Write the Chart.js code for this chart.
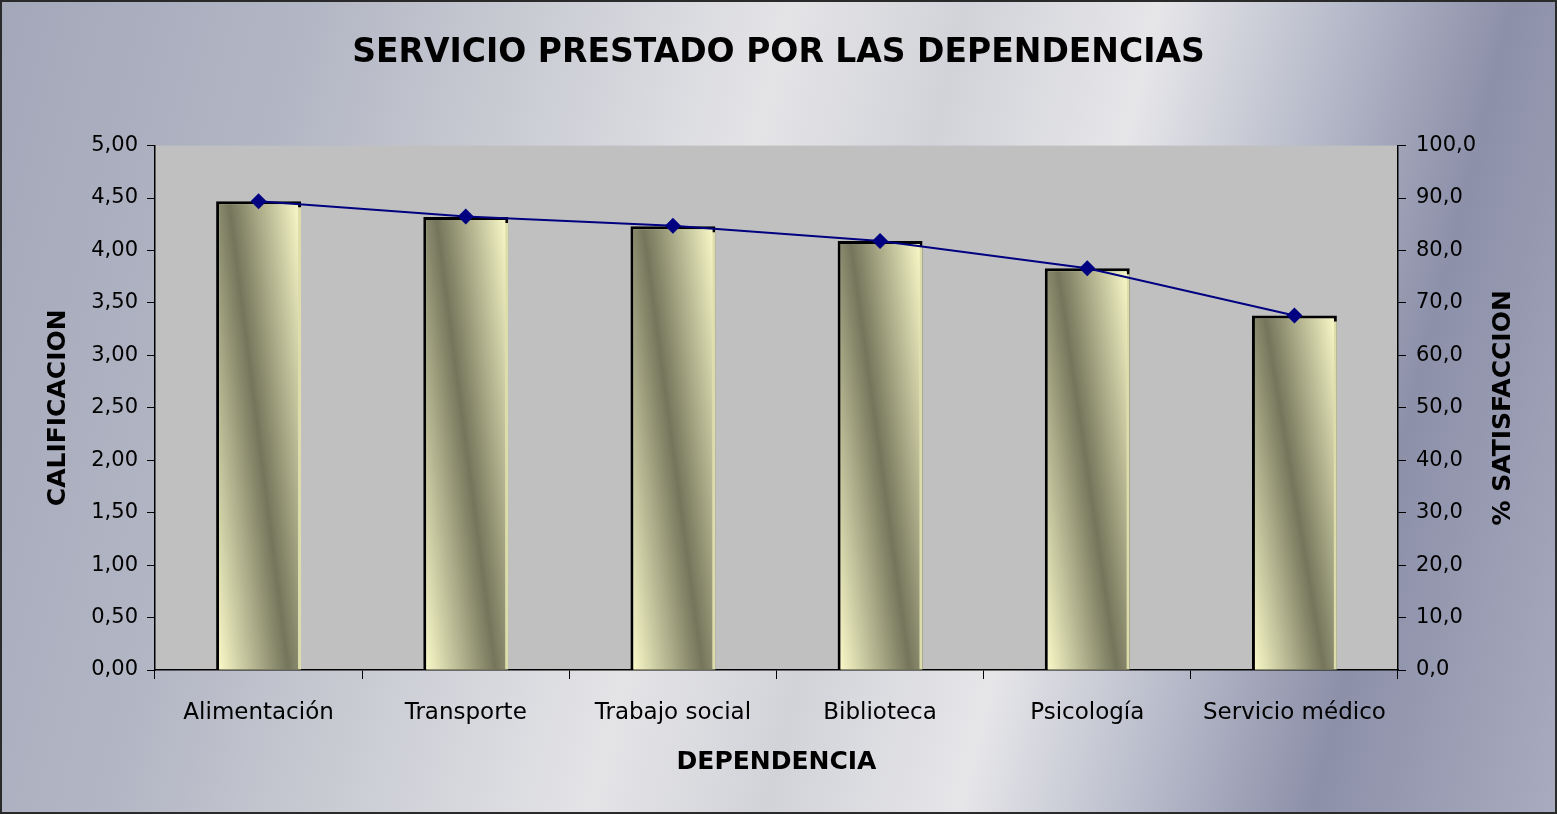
<!DOCTYPE html>
<html>
<head>
<meta charset="utf-8">
<script src="https://cdn.jsdelivr.net/npm/chart.js@4.4.0/dist/chart.umd.min.js"></script>
<style>
  html, body { margin: 0; padding: 0; }
  #wrap {
    position: relative; width: 1557px; height: 814px; overflow: hidden;
    background: linear-gradient(104deg, #a3a7b9 0%, #b3b6c4 18%, #c9cbd3 30%, #e4e4e7 45%, #d2d3d9 55%, #e6e6e9 66%, #b9bccb 76%, #8c90a9 86%, #a9acbf 100%);
  }
  #frame { position: absolute; left: 0; top: 0; right: 0; bottom: 0; border: 2px solid #2a2a2a; pointer-events: none; }
</style>
</head>
<body>
<div id="wrap">
  <canvas id="myChart" width="1557" height="814"></canvas>
  <div id="frame"></div>
</div>
<script>
// datos
var dependencias = ["Alimentación", "Transporte", "Trabajo social", "Biblioteca", "Psicología", "Servicio médico"];
var calificacion = [4.47, 4.32, 4.23, 4.09, 3.83, 3.38];
var satisfaccion = [89.4, 86.5, 84.7, 81.8, 76.6, 67.6];

var tickFont = { family: "DejaVu Sans", size: 21 };
var catFont = { family: "DejaVu Sans", size: 23 };
var titleFont = { family: "DejaVu Sans", size: 25, weight: "bold" };

var plotBg = {
  id: "plotBg",
  // fondo gris del area de trazado
  beforeDraw: function (chart) {
    var a = chart.chartArea;
    var ctx = chart.ctx;
    ctx.save();
    ctx.fillStyle = "#c0c0c0";
    ctx.fillRect(a.left, a.top, a.right - a.left, a.bottom - a.top);
    ctx.restore();
  },
  // sombra amarilla de las barras
  beforeDatasetDraw: function (chart, args) {
    if (args.index !== 1) return;
    var ctx = chart.ctx;
    ctx.save();
    ctx.shadowColor = "rgba(245,245,190,0.9)";
    ctx.shadowOffsetX = 3;
    ctx.shadowOffsetY = 3;
    ctx.shadowBlur = 0;
  },
  afterDatasetDraw: function (chart, args) {
    if (args.index !== 1) return;
    chart.ctx.restore();
  },
  // titulo derecho leido de abajo hacia arriba
  afterDraw: function (chart) {
    var ctx = chart.ctx;
    var a = chart.chartArea;
    ctx.save();
    ctx.translate(1503, (a.top + a.bottom) / 2);
    ctx.rotate(-Math.PI / 2);
    ctx.font = "bold 25px 'DejaVu Sans'";
    ctx.fillStyle = "#000000";
    ctx.textAlign = "center";
    ctx.textBaseline = "middle";
    ctx.fillText("% SATISFACCION", 0, 0);
    ctx.restore();
  }
};

// degradado diagonal de cada barra
function barGradient(context) {
  var chart = context.chart;
  if (context.type !== "data" || !chart.scales.x || !chart.chartArea) return "#c8c89a";
  var xs = chart.scales.x, ys = chart.scales.y;
  var cx = xs.getPixelForValue(context.dataIndex);
  var w = (xs.width / dependencias.length) * 0.41;
  var top = ys.getPixelForValue(calificacion[context.dataIndex]);
  var bottom = ys.getPixelForValue(0);
  if (isNaN(cx) || isNaN(top)) return "#c8c89a";
  var h = bottom - top;
  var left = cx - w / 2;
  // banda oscura de arriba-izquierda a abajo-derecha
  var px = left + 0.15 * w, py = top;
  var L = Math.sqrt(0.49 * w * w + h * h);
  var nx = h / L, ny = -0.7 * w / L;
  var k = 0.85 * w * h / L;
  var g = chart.ctx.createLinearGradient(px - k * nx, py - k * ny, px + k * nx, py + k * ny);
  g.addColorStop(0, "#fdfdcc");
  g.addColorStop(0.5, "#74755b");
  g.addColorStop(1, "#fdfdcc");
  return g;
}

new Chart(document.getElementById("myChart").getContext("2d"), {
  type: "bar",
  data: {
    labels: dependencias,
    datasets: [
      {
        type: "line",
        label: "% SATISFACCION",
        data: satisfaccion,
        yAxisID: "y2",
        borderColor: "#000080",
        backgroundColor: "#000080",
        borderWidth: 2,
        pointStyle: "rectRot",
        pointRadius: 8,
        pointBorderWidth: 0,
        tension: 0,
        order: 0
      },
      {
        label: "CALIFICACION",
        data: calificacion,
        yAxisID: "y",
        backgroundColor: barGradient,
        borderColor: "#000000",
        borderWidth: 3,
        categoryPercentage: 1,
        barPercentage: 0.41,
        order: 1
      }
    ]
  },
  plugins: [plotBg],
  options: {
    responsive: false,
    animation: false,
    layout: { padding: 0 },
    plugins: {
      legend: { display: false },
      tooltip: { enabled: false },
      title: {
        display: true,
        text: "SERVICIO PRESTADO POR LAS DEPENDENCIAS",
        color: "#000000",
        font: { family: "DejaVu Sans", size: 33, weight: "bold" },
        padding: { top: 34, bottom: 72 }
      }
    },
    scales: {
      x: {
        offset: true,
        grid: { offset: true, drawOnChartArea: false, color: "#000000", tickLength: 9 },
        border: { color: "#000000", width: 1.5 },
        ticks: { color: "#000000", font: catFont, padding: 20, maxRotation: 0 },
        title: { display: true, text: "DEPENDENCIA", color: "#000000", font: titleFont, padding: { top: 0, bottom: 37 } },
        afterFit: function (s) { s.height = 144; }
      },
      y: {
        position: "left",
        min: 0, max: 5,
        ticks: {
          stepSize: 0.5, color: "#000000", font: tickFont, padding: 9,
          callback: function (v) { return v.toFixed(2).replace(".", ","); }
        },
        grid: { drawOnChartArea: false, color: "#000000", tickLength: 8 },
        border: { color: "#000000", width: 1.5 },
        title: { display: true, text: "CALIFICACION", color: "#000000", font: titleFont, padding: { top: 43, bottom: 0 } },
        afterFit: function (s) { s.width = 155; }
      },
      y2: {
        position: "right",
        min: 0, max: 100,
        ticks: {
          stepSize: 10, color: "#000000", font: tickFont, padding: 10,
          callback: function (v) { return v.toFixed(1).replace(".", ","); }
        },
        grid: { drawOnChartArea: false, color: "#000000", tickLength: 8 },
        border: { color: "#000000", width: 1.5 },
        afterFit: function (s) { s.width = 159; }
      }
    }
  }
});
</script>
</body>
</html>
